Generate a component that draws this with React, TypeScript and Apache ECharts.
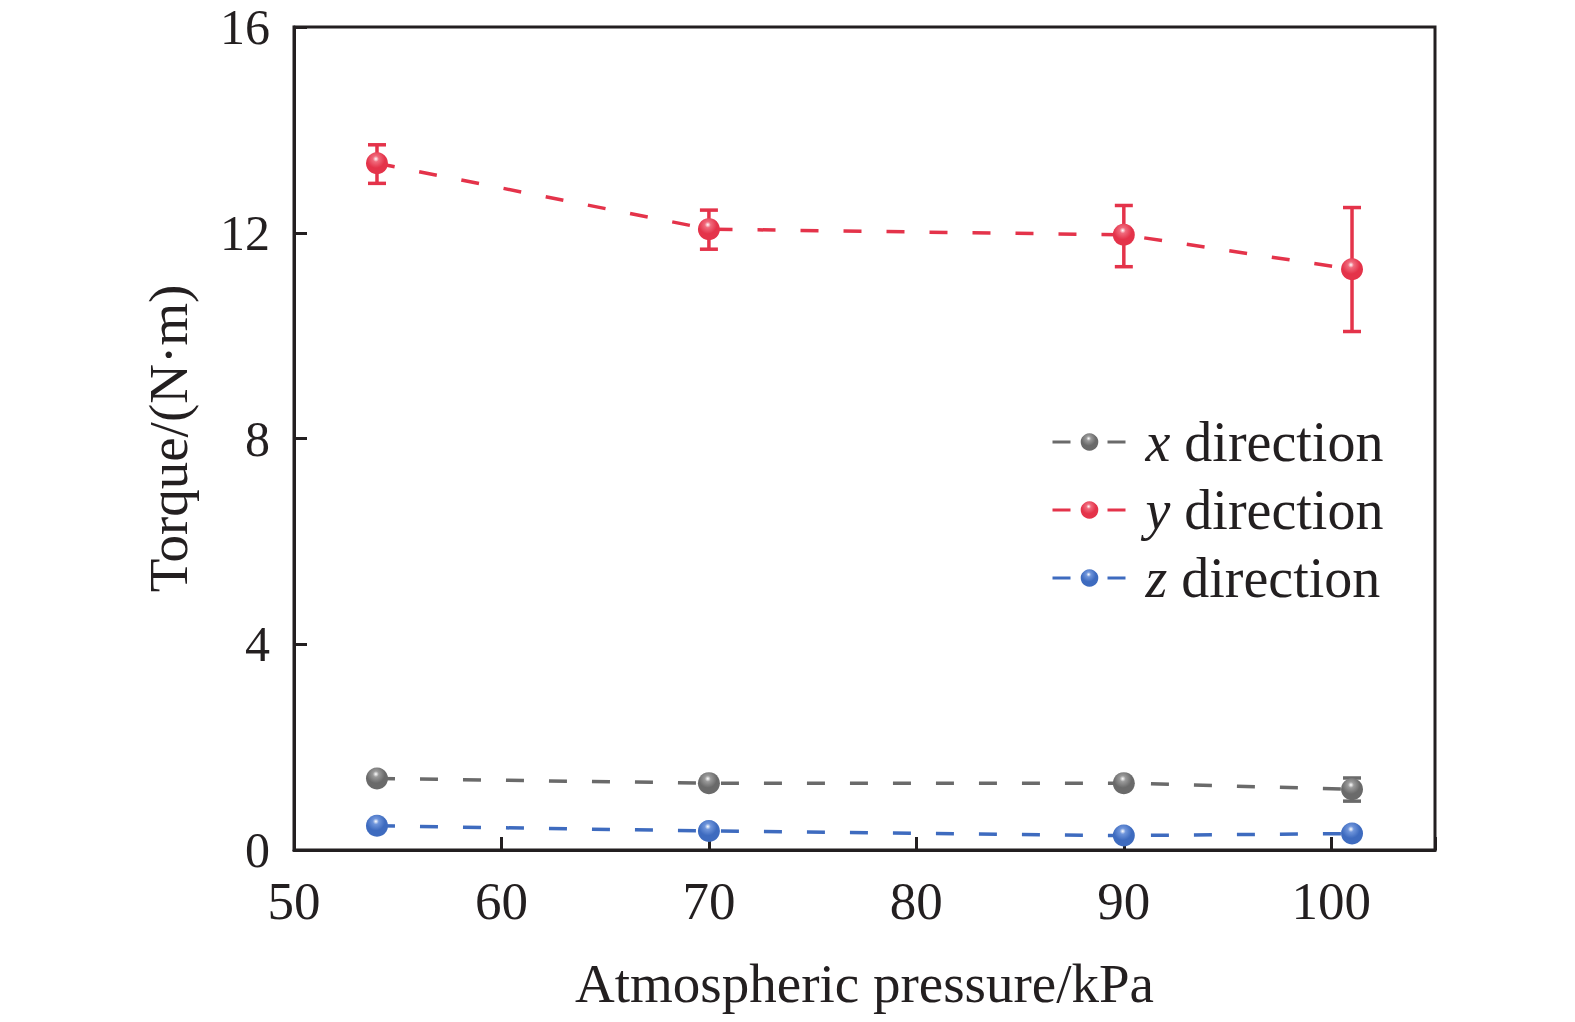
import React, { useEffect, useRef } from 'react';
import * as echarts from 'echarts';

// pressure (kPa) at which torque was measured
const pressures = [54, 70, 90, 101];

// mean torque per direction (N·m)
const torqueX = [1.39, 1.3, 1.3, 1.18];
const torqueY = [13.35, 12.07, 11.96, 11.29];
const torqueZ = [0.47, 0.37, 0.28, 0.32];

// error bar bounds [low, high]
const errY = [
  [12.96, 13.71],
  [11.68, 12.44],
  [11.34, 12.53],
  [10.08, 12.49],
];
const errX = [
  [1.39, 1.39],
  [1.3, 1.3],
  [1.3, 1.3],
  [0.95, 1.4],
];

const yTicks = [0, 4, 8, 12, 16];

const FONT = "'Liberation Serif', 'Times New Roman', serif";
const INK = '#231f20';
const RED = '#e4334a';
const GRAY = '#6a6a6a';
const BLUE = '#3e6bbf';

const sphere = (base: string, mid: string) =>
  new echarts.graphic.RadialGradient(0.45, 0.3, 0.75, [
    { offset: 0, color: '#ffffff' },
    { offset: 0.18, color: mid },
    { offset: 0.55, color: base },
    { offset: 1, color: base },
  ]);

const lineSeries = (name: string, data: number[], color: string, mid: string) => ({
  name,
  type: 'line',
  data: pressures.map((p, i) => [p, data[i]]),
  symbol: 'circle',
  symbolSize: 22,
  z: 3,
  itemStyle: { color: sphere(color, mid), borderWidth: 0 },
  lineStyle: { color, width: 3.5, type: [18, 25] },
});

const errorSeries = (bounds: number[][], color: string) => ({
  type: 'custom',
  z: 2,
  silent: true,
  encode: { x: 0, y: [1, 2] },
  data: pressures.map((p, i) => [p, bounds[i][0], bounds[i][1]]),
  renderItem: (_params: any, api: any) => {
    const x = api.value(0);
    const lo = api.coord([x, api.value(1)]);
    const hi = api.coord([x, api.value(2)]);
    const half = 9;
    const style = { stroke: color, lineWidth: 3.5 };
    return {
      type: 'group',
      children: [
        { type: 'line', shape: { x1: hi[0], y1: hi[1], x2: lo[0], y2: lo[1] }, style },
        { type: 'line', shape: { x1: hi[0] - half, y1: hi[1], x2: hi[0] + half, y2: hi[1] }, style },
        { type: 'line', shape: { x1: lo[0] - half, y1: lo[1], x2: lo[0] + half, y2: lo[1] }, style },
      ],
    };
  },
});

export default function App() {
  const chartRef = useRef<HTMLDivElement>(null);

  useEffect(() => {
    if (!chartRef.current) return;
    const chart = echarts.init(chartRef.current, null, { renderer: 'svg' });

    const option = {
      animation: false,
      backgroundColor: '#ffffff',
      grid: {
        left: 294,
        top: 27,
        right: 140,
        bottom: 172,
        show: true,
        borderColor: INK,
        borderWidth: 3,
      },
      legend: {
        orient: 'vertical',
        left: 1046,
        top: 409,
        itemWidth: 74,
        itemHeight: 22,
        itemGap: 12,
        data: ['x direction', 'y direction', 'z direction'],
        lineStyle: { type: [18, 37], width: 3 },
        formatter: (name: string) => `{i|${name[0]}} {t|${name.slice(2)}}`,
        textStyle: {
          fontFamily: FONT,
          fontSize: 56,
          color: INK,
          padding: [0, 0, 0, 14],
          rich: {
            i: { fontFamily: FONT, fontSize: 56, fontStyle: 'italic', color: INK, lineHeight: 54 },
            t: { fontFamily: FONT, fontSize: 56, color: INK, lineHeight: 54 },
          },
        },
      },
      xAxis: {
        type: 'value',
        min: 50,
        max: 105,
        interval: 10,
        name: 'Atmospheric pressure/kPa',
        nameLocation: 'middle',
        nameGap: 106,
        nameTextStyle: { fontFamily: FONT, fontSize: 55, color: INK },
        axisLine: { lineStyle: { color: INK, width: 3 } },
        axisTick: { inside: true, length: 13, lineStyle: { color: INK, width: 3 } },
        axisLabel: {
          fontFamily: FONT,
          fontSize: 53,
          color: INK,
          margin: 24,
          formatter: (v: number) => (v > 100 ? '' : String(v)),
        },
        splitLine: { show: false },
      },
      yAxis: {
        type: 'value',
        min: yTicks[0],
        max: yTicks[yTicks.length - 1],
        interval: 4,
        name: 'Torque/(N·m)',
        nameLocation: 'middle',
        nameGap: 98,
        nameTextStyle: { fontFamily: FONT, fontSize: 55, color: INK },
        axisLine: { lineStyle: { color: INK, width: 3 } },
        axisTick: { inside: true, length: 13, lineStyle: { color: INK, width: 3 } },
        axisLabel: { fontFamily: FONT, fontSize: 50, lineHeight: 44, color: INK, margin: 24 },
        splitLine: { show: false },
      },
      series: [
        errorSeries(errY, RED),
        errorSeries(errX, GRAY),
        lineSeries('x direction', torqueX, GRAY, '#9a9a9a'),
        lineSeries('y direction', torqueY, RED, '#f06a7c'),
        lineSeries('z direction', torqueZ, BLUE, '#6f95db'),
      ],
    } as any;

    chart.setOption(option);
    const handleResize = () => chart.resize();
    window.addEventListener('resize', handleResize);
    return () => {
      window.removeEventListener('resize', handleResize);
      chart.dispose();
    };
  }, []);

  return <div ref={chartRef} style={{ width: 1575, height: 1022, margin: -8 }} />;
}
